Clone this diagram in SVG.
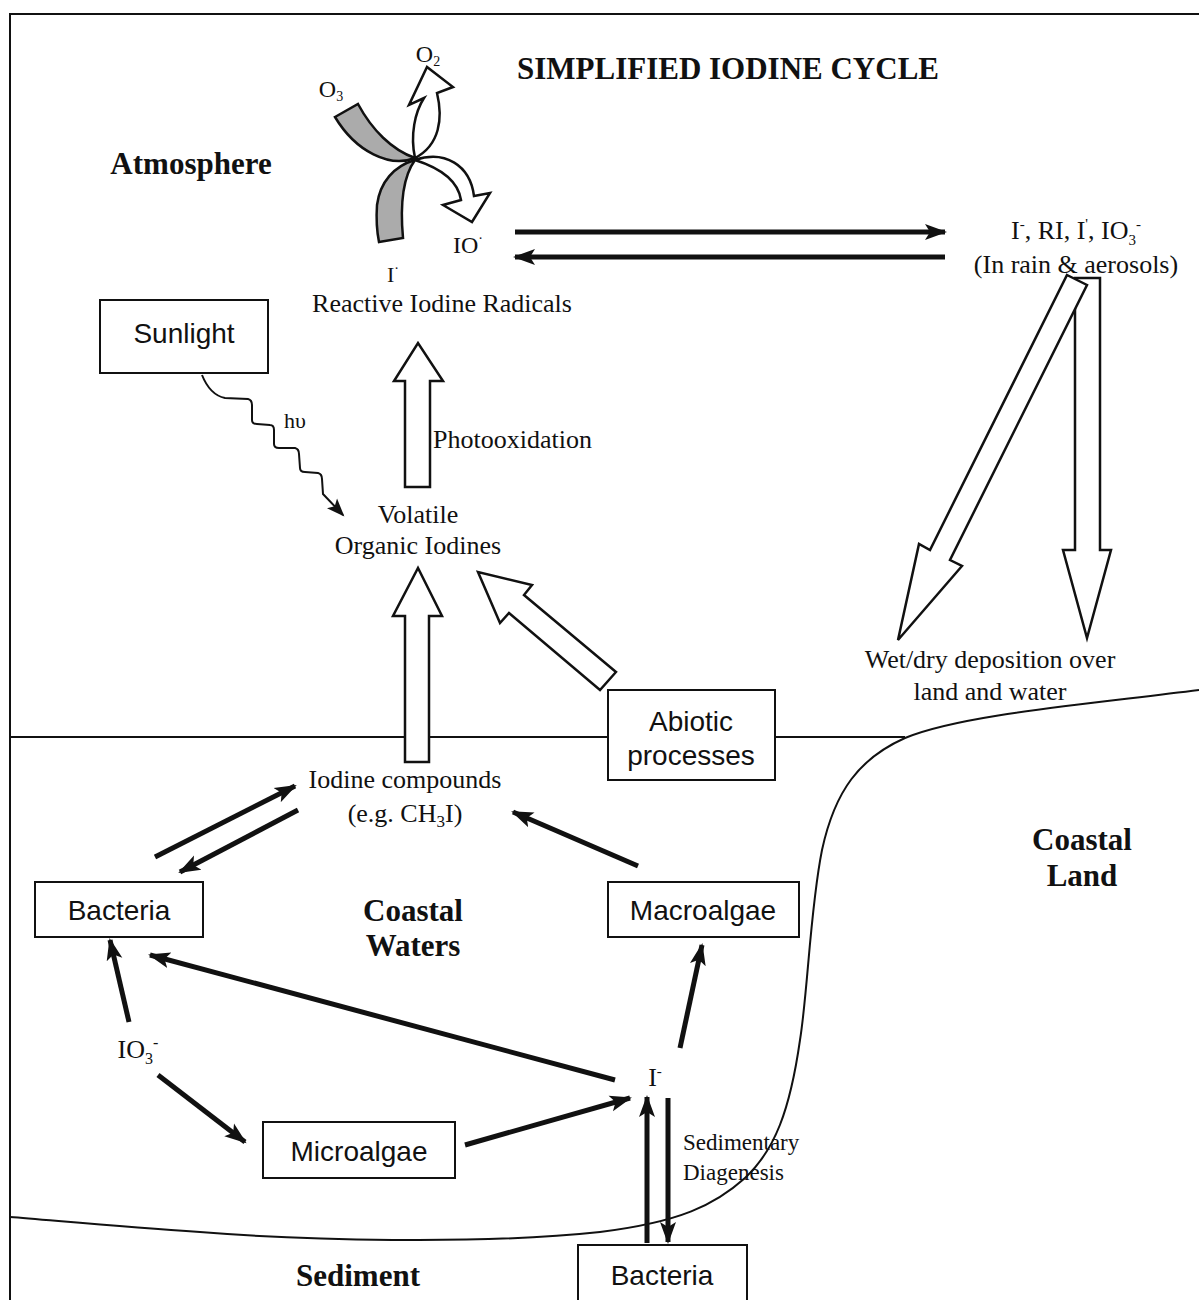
<svg xmlns="http://www.w3.org/2000/svg" width="1199" height="1300" viewBox="0 0 1199 1300">
<defs>
<style>
.s{font-family:"Liberation Serif","Times New Roman",serif;font-size:26px;fill:#111}
.b{font-family:"Liberation Serif","Times New Roman",serif;font-size:31px;font-weight:bold;fill:#111}
.n{font-family:"Liberation Sans",Arial,sans-serif;font-size:28px;fill:#111}
.box{fill:#fff;stroke:#111;stroke-width:2}
.ln{fill:none;stroke:#111;stroke-width:2}
.ar{fill:none;stroke:#111;stroke-width:5;marker-end:url(#ah)}
.hol{fill:#fff;stroke:#111;stroke-width:2.5;stroke-linejoin:miter}
.gray{fill:#ababab;stroke:#111;stroke-width:2.5}
</style>
<marker id="ah" markerUnits="userSpaceOnUse" markerWidth="24" markerHeight="18" refX="20" refY="9" orient="auto">
<path d="M0,1 L22,9 L0,17 L5,9 Z" fill="#111"/>
</marker>
<marker id="ahw" markerUnits="userSpaceOnUse" markerWidth="20" markerHeight="16" refX="16" refY="8" orient="auto">
<path d="M0,1 L18,8 L0,15 L4,8 Z" fill="#111"/>
</marker>
</defs>
<rect width="1199" height="1300" fill="#fff"/>

<g id="background">
<path class="ln" d="M10,1300 L10,14 L1199,14"/>
<path class="ln" d="M10,737 L905,737"/>
<path class="ln" d="M1199,690 C1080,705 960,715 905,738 C860,758 835,790 822,850 C810,910 808,990 800,1040 C790,1110 775,1150 745,1178 C715,1205 680,1222 600,1232 C480,1245 300,1240 200,1232 C120,1227 50,1220 10,1217"/>
</g>

<g id="labels">
<text class="b" x="728" y="79" text-anchor="middle">SIMPLIFIED IODINE CYCLE</text>
<text class="b" x="191" y="174" text-anchor="middle">Atmosphere</text>
<text class="b" x="413" y="921" text-anchor="middle">Coastal</text>
<text class="b" x="413" y="956" text-anchor="middle">Waters</text>
<text class="b" x="1082" y="850" text-anchor="middle">Coastal</text>
<text class="b" x="1082" y="886" text-anchor="middle">Land</text>
<text class="b" x="358" y="1286" text-anchor="middle">Sediment</text>
</g>

<g id="radical-cycle">
<path class="gray" d="M335,117 L358,104 C372,130 392,150 415,158 C390,168 356,152 335,117 Z"/>
<path class="gray" d="M379,242 L403,238 C400,205 402,178 415,160 C394,166 380,182 377,205 C376,220 377,232 379,242 Z"/>
<path class="hol" d="M415,158 C410,135 415,112 424,98 L409,105 L427,67 L453,87 L437,93 C443,118 440,145 415,158 Z"/>
<path class="hol" d="M415,160 C445,150 470,165 474,196 L490,193 L472,222 L443,205 L461,200 C458,180 440,168 415,160 Z"/>
<text class="s" x="331" y="97" text-anchor="middle" style="font-size:24px">O<tspan font-size="14" dy="4">3</tspan></text>
<text class="s" x="428" y="62" text-anchor="middle" style="font-size:24px">O<tspan font-size="14" dy="4">2</tspan></text>
<text class="s" x="468" y="253" text-anchor="middle" style="font-size:24px">IO<tspan font-size="14" dy="-10">·</tspan></text>
<text class="s" x="393" y="282" text-anchor="middle" style="font-size:22px">I<tspan font-size="14" dy="-9">·</tspan></text>
<text class="s" x="442" y="312" text-anchor="middle">Reactive Iodine Radicals</text>
</g>

<g id="rain">
<text class="s" x="1076" y="239" text-anchor="middle">I<tspan font-size="15" dy="-10">-</tspan><tspan dy="10">, RI, I</tspan><tspan font-size="15" dy="-10">'</tspan><tspan dy="10">, IO</tspan><tspan font-size="15" dy="6">3</tspan><tspan font-size="15" dy="-16">-</tspan></text>
<text class="s" x="1076" y="273" text-anchor="middle">(In rain &amp; aerosols)</text>
</g>

<g id="sunlight">
<rect class="box" x="100" y="300" width="168" height="73"/>
<text class="n" x="184" y="343" text-anchor="middle">Sunlight</text>
</g>

<g id="volatile">
<text class="s" x="418" y="523" text-anchor="middle">Volatile</text>
<text class="s" x="418" y="554" text-anchor="middle">Organic Iodines</text>
</g>

<g id="abiotic">
<rect class="box" x="608" y="690" width="167" height="90"/>
<text class="n" x="691" y="731" text-anchor="middle">Abiotic</text>
<text class="n" x="691" y="765" text-anchor="middle">processes</text>
</g>

<g id="iodine-compounds">
<text class="s" x="405" y="788" text-anchor="middle">Iodine compounds</text>
<text class="s" x="405" y="822" text-anchor="middle">(e.g. CH<tspan font-size="17" dy="5">3</tspan><tspan dy="-5">I)</tspan></text>
</g>

<g id="bacteria-water">
<rect class="box" x="35" y="882" width="168" height="55"/>
<text class="n" x="119" y="920" text-anchor="middle">Bacteria</text>
</g>

<g id="macroalgae">
<rect class="box" x="608" y="882" width="191" height="55"/>
<text class="n" x="703" y="920" text-anchor="middle">Macroalgae</text>
</g>

<g id="io3">
<text class="s" x="138" y="1058" text-anchor="middle">IO<tspan font-size="16" dy="6">3</tspan><tspan font-size="16" dy="-16">-</tspan></text>
</g>

<g id="microalgae">
<rect class="box" x="263" y="1122" width="192" height="56"/>
<text class="n" x="359" y="1161" text-anchor="middle">Microalgae</text>
</g>

<g id="iodide">
<text class="s" x="655" y="1086" text-anchor="middle">I<tspan font-size="15" dy="-10">-</tspan></text>
</g>

<g id="diagenesis">
<text class="s" x="683" y="1150" style="font-size:23px">Sedimentary</text>
<text class="s" x="683" y="1180" style="font-size:23px">Diagenesis</text>
</g>

<g id="bacteria-sediment">
<rect class="box" x="578" y="1245" width="169" height="60"/>
<text class="n" x="662" y="1285" text-anchor="middle">Bacteria</text>
</g>

<g id="deposition">
<text class="s" x="990" y="668" text-anchor="middle">Wet/dry deposition over</text>
<text class="s" x="990" y="700" text-anchor="middle">land and water</text>
</g>

<g id="connectors">
<path class="hol" d="M1075,278 L1100,278 L1100,550 L1111,550 L1087,638 L1063,550 L1075,550 Z"/>
<path class="hol" d="M1067,275 L1087,285 L950,560 L962,566 L898,640 L919,544 L930,550 Z"/>
<path class="hol" d="M405,487 L405,381 L394,381 L418,343 L443,381 L430,381 L430,487 Z"/>
<path class="hol" d="M405,762 L405,616 L393,616 L418,568 L442,616 L429,616 L429,762 Z"/>
<path class="hol" d="M616,672 L524,595 L532,585 L478,572 L500,623 L509,613 L600,690 Z"/>
<path fill="none" stroke="#111" stroke-width="2" marker-end="url(#ahw)" d="M202,375 Q210,395 225,398 L248,399 Q252,400 252,405 L252,420 Q252,424 257,424 L270,425 Q274,425 274,430 L274,444 Q274,448 279,448 L295,448 Q299,449 299,454 L300,468 Q300,472 305,472 L318,473 Q322,474 322,479 L323,494 L343,515"/>
<text class="s" x="295" y="428" text-anchor="middle" style="font-size:22px">hυ</text>
<text class="s" x="433" y="448">Photooxidation</text>
<line class="ar" x1="515" y1="232" x2="945" y2="232"/>
<line class="ar" x1="945" y1="257" x2="515" y2="257"/>
<line class="ar" x1="155" y1="857" x2="295" y2="786"/>
<line class="ar" x1="298" y1="810" x2="180" y2="872"/>
<line class="ar" x1="638" y1="866" x2="513" y2="812"/>
<line class="ar" x1="129" y1="1022" x2="110" y2="940"/>
<line class="ar" x1="158" y1="1075" x2="245" y2="1142"/>
<line class="ar" x1="615" y1="1080" x2="150" y2="955"/>
<line class="ar" x1="465" y1="1145" x2="630" y2="1098"/>
<line class="ar" x1="680" y1="1048" x2="702" y2="945"/>
<line class="ar" x1="647" y1="1243" x2="647" y2="1097"/>
<line class="ar" x1="668" y1="1098" x2="668" y2="1242"/>
</g>
</svg>
